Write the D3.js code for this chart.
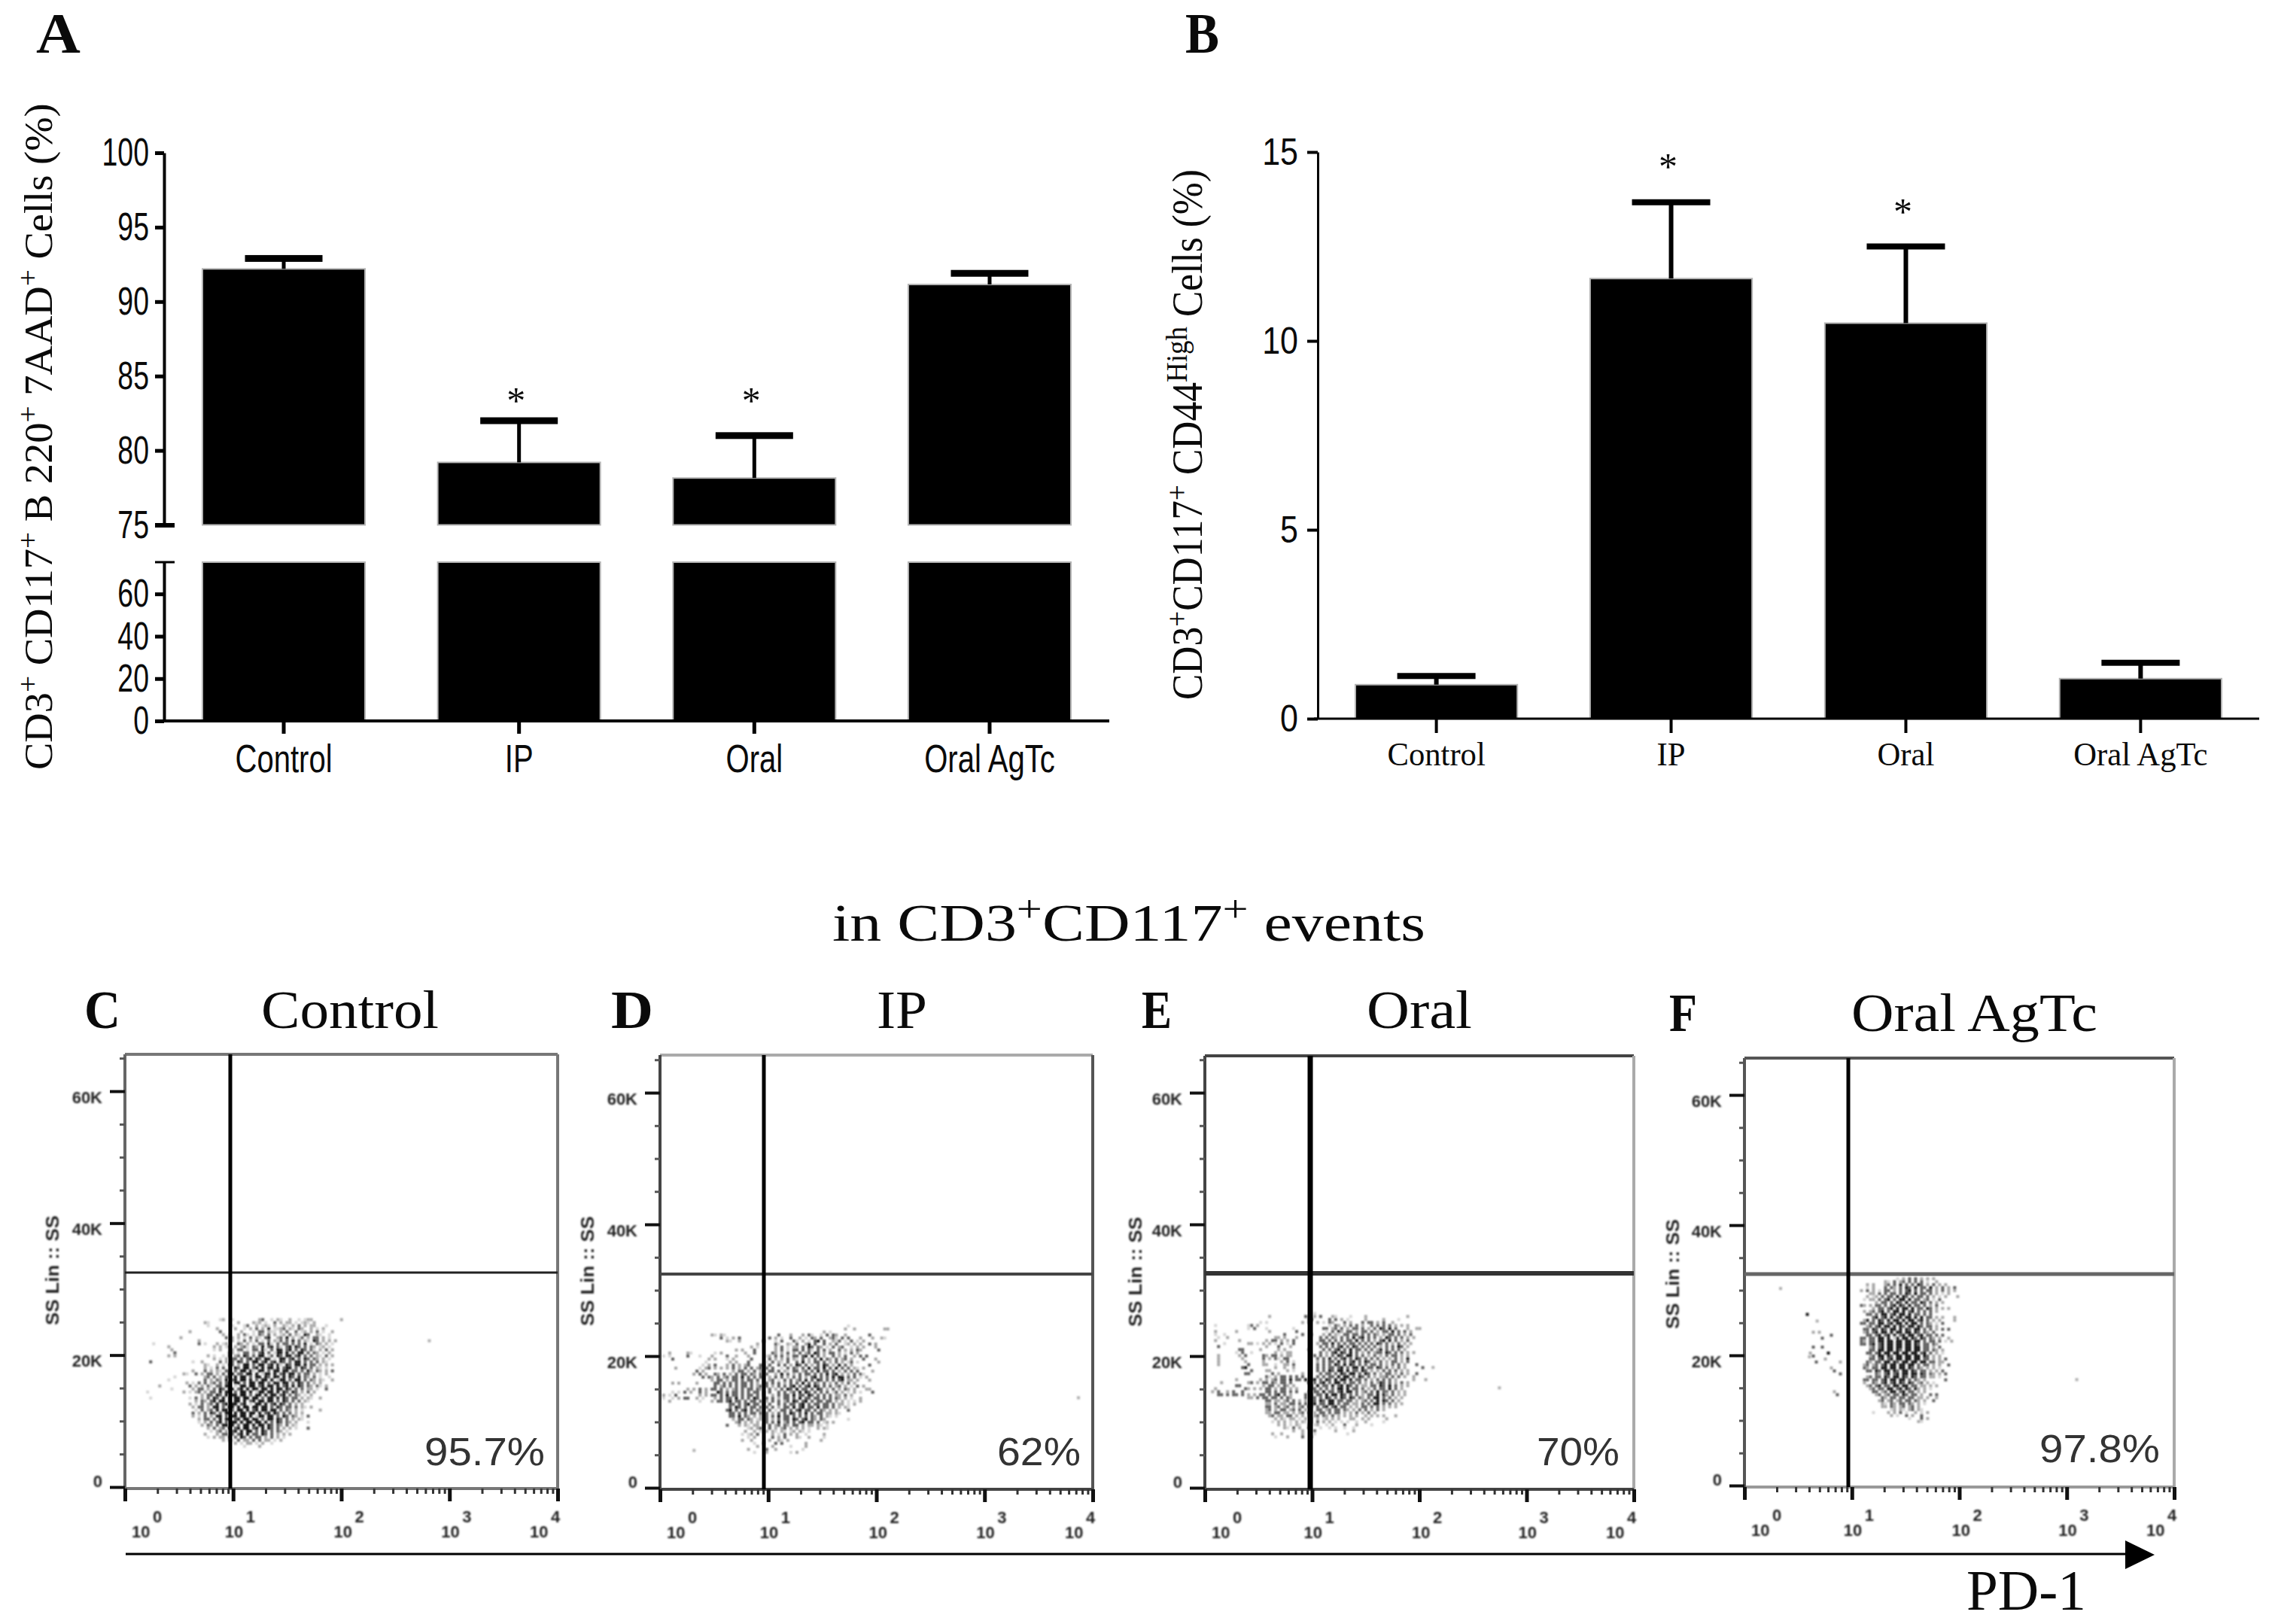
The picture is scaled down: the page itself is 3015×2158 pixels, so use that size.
<!DOCTYPE html>
<html>
<head>
<meta charset="utf-8">
<script src="https://d3js.org/d3.v7.min.js"></script>
<style>
  html, body { margin: 0; background: #fff; }
  svg { display: block; }
  .sans { font-family: "Liberation Sans", sans-serif; }
  .serif { font-family: "Liberation Serif", serif; }
</style>
</head>
<body>
<script>
/* bar charts */
const categories = ['Control', 'IP', 'Oral', 'Oral AgTc']
const cd44Cats = categories
const b220Means = [92.2, 79.2, 78.15, 91.15]
const b220Tops = [92.9, 82, 81, 91.9]
const b220Stars = ['IP', 'Oral']
const b220TicksUpper = [75, 80, 85, 90, 95, 100]
const b220TicksLower = [0, 20, 40, 60]
const cd44Means = [0.9, 11.65, 10.47, 1.06]
const cd44Tops = [1.13, 13.67, 12.5, 1.48]
const cd44Ticks = [0, 5, 10, 15]

/* flow panels: percent labels, axis ticks */
const flowNames = ['Control', 'IP', 'Oral', 'Oral AgTc']
const flowLetters = ['C', 'D', 'E', 'F']
const flowPercents = ['95.7%', '62%', '70%', '97.8%']
const ssMajor = [0, 20, 40, 60]
const ssMinor = [5, 10, 15, 25, 30, 35, 45, 50, 55, 65]
const pdDecades = [1, 10, 100, 1000, 10000]

/* scatter, one char per source pixel: . empty, 1 light .. 4 black */
const gridC = [
"..........................12..1........23..1.21..2..1.122.........2...",
".....................21.........2....212.1..3.2.22.1.121.2............",
"......................1.......1...13..2.121.2..21.2.3.2.22...1........",
".........................2.....2..1.2.3.2.4.1123.21.32..2.1.2.........",
"................2.........3......2...1.33.211.2.3..3.12.2.3.1..2......",
"...........................2.1..2.31.1.32.3.2.12.3.21.43..21..1.......",
".............2..............3.2.2.1.3.21.34..23.4.2.13.2.33.2.1.......",
"...................2.........12.1.3.2.3.1.3.213.3.4.3.21.43.2.2.2.....",
"....1..............3.1...2.12...32.2.1.33.41.3.33.3.3.4.1.32.2.1......",
".........2..............2.2.13.2.231.32.4.34.31.34.43.3.32.12.1.......",
"..........2.............1.2..22.33.1.33.41.3.44.34.3.43.31.2.3.2......",
"...........3.................32.1.33.2.34.3.144.4.3.44.3.32.1.2.......",
".........2.2..........2.1..1.3.23.43.3.44.13.43.44.34.3.3.21.3.2......",
"........................2.1.2.33.3.34.43.44.1.44.34.3.43.32.2.1.......",
"...3.............1..2.....3.2.3.43.3.44.34.34.43.3.44.3.3.3.21........",
".....................21..2.1.33.2.44.3.44.34.41.43.44.4.33.2.2.2......",
".....................2.1.3.3.2.43.44.34.4.44.4.344.3.43.3.21.1........",
".................2...3.2.21.33.3.44.41.44.3.44.44.33.3.42.32.2.3......",
"..............21..3.2.33.2.3.44.33.44.4.144.4.34.44.3.33.2.1.2........",
"...........1.........23.3.2.33.4.44.3.44.43.44.4.43.4.32.3.1..1.......",
".........1...........3.2.32.4.34.44.4.3.44.4.144.3.44.3.32.21..2......",
"...............2.1.3.3.23.3.34.44.3.44.44.3.44.44.3.43.3.2.2..........",
"......2.........3.2.2.31.33.44.1.44.44.34.44.4.34.4.43.32.31.2........",
"..........1......2.33.2.3.43.44.34.4.44.44.4.44.43.3.3.22.1..3........",
"..1...........2.1.23.2.33.4.44.3.44.4.144.44.4.43.43.2.3.2............",
"....................2.33.43.4.44.44.3.44.4.44.34.3.32.1.2.............",
"...1............1.3.2.3.43.4.3.44.44.44.3.44.4.43.33.2.21..2..........",
"..................2.32.34.44.3.44.4.34.44.44.3.43.3.3.21..............",
"................2.1.3.23.4.34.44.34.1.44.4.34.43.3.2.2................",
".................2.33.2.44.3.44.4.44.44.44.3.43.33.3.21.2.............",
"..................1.3.23.4.44.3.44.4.34.44.44.3.32.2.1.....2..........",
".................3.2.3.43.3.44.4.44.44.4.34.43.3.3.2.2................",
".................2.1.3.2.44.3.44.44.4.144.44.3.43.32.1.3..............",
"...................2.33.3.4.44.34.44.44.3.44.43.3.2.21................",
"...................1.2.3.34.3.44.4.44.44.4.3.43.32.2...1..............",
"....................2.32.3.44.4.3.44.4.44.43.32.3.21..................",
"......................2.3.23.4.34.44.34.4.43.3.2.2.1...3..............",
".......................1.23.2.34.4.44.3.43.3.32.1.....................",
".....................2...2.33.3.34.4.33.43.3.2.2.2....................",
"......................1.2.22.3.3.43.3.33.2.3.2.1......................",
"...........................2.21.3.22.3.3.22.1.2.......................",
"...............................2.1.22.1.2..1..........................",
"..................................1....2...............................",
]
const outliersC = [[630, 22.4]]

const gridD = [
".............................................................1..............",
"............................................................2..2.........22.",
".....................................................2.1....................",
"................21.21.................3...2...2.31..1.3.32..2.......3........",
"...................3.1.2.3.........3.2.1..3..2.1.32.3..231.3.3...2...2..21..",
".....................21..2.......3...1.3...31.2.1.34.3..213.1.3.1.2..........",
"...............................2.....31..21.3..24.3..3.2.3..12.2.2..3.2......",
".............................2.1.....2.3.1.22.3.43.32.1.3.23..1.2.2...2......",
"........................2.2...3......2.3.1.33.3.31.3.3.2..3.2.2.32.....3.....",
"..2.....21.......1.2.......2..3.....32.2.3.2.3.23.43.2.33.2.1.3.2...........",
"1.1.....3...1...2....3..2...2.....12.3.3.2.33.34.4.3.2..3.2.3..2.3.3.........",
"...3...........2.2...1.2.....3.....3.2.2.3.21.3.2.3.4.32.3.23.2...3...2......",
"..............1.......2.2...3.....1.3.21.3..3.4.2.33.3.2.3.2.13.1......2.....",
".............1.2.3...2.3.2.23...33.3..3.3.2.43.3.2.3.43.2.4.3.2.....3........",
"....2.......1.23.2.2.2.3.2.3.3.23.3.3..1.3.32.3.4.33.4.3.4.3.3.21.2..........",
"...........3.2.........2.33.2.3.23.33.3.21.33.23.3.4.33.3.2.3.3.3....2.......",
"..........2.3.2..32.3.2.3.33.32.3.3..2.4.3.2.3.33.3.3.4.34.2.2.3.31..........",
".............3.32.3.23.33.4.3.3.33.2.3.3.2.3.3.2.34.3.3.4.44.3.3.1.2.........",
"................2.33.2.33.3.33.3.3.23.1.3.3.23.4.3.43.3.3.34.22.2...2........",
"...2.2.....2.....33.3.3.3.33.3.2.33.3.3.2.3.3.4.3.32.3.2.3.2.3.2.............",
".................3.23.3.3.33.3.23.3.2.3.3.34.3.34.43.3.3.23.2.1.3.2..........",
"........2.2.3.2.33.3.2.23.3.33.32..3.2.3.43.4.33.3.43.2.3.2.32.2...22........",
"...1.1.3.2..3.2...43.3.33.3.3.33.3.3..3.3.23.4.43.3.3.3.13.2.1.2.1...3.......",
"2.1.3.......2.2.33.3.4.33.3.33.3.3..2.3.33.4.33.43.3.3.3.22.3.2..............",
"1..1.2.33..2.1...2.3.33.4.3.3.43.23.3.2.33.3.4.33.33.3.3.32.2.1..2...........",
"..2.........1...2.33.34.33.3.33.3.2.3.3.23.43.34.3.33.33.2.2.1.1.2...........",
"......................33.3.34.33.3.3..3.3.33.34.3.33.33.3.22.1.2..............",
"......................3.43.3.33.3.3.3.2.33.4.34.33.4.33.3.2.21...............",
".....................34.3.34.3.32..3.1.33.3.34.33.3.32.2.2...3...............",
"......................33.3.3.33.3.3.2.3.3.43.3.4.3.33.22.21...................",
"......................33.4.32.2.2.3.3.4.33.3.3.3.32.3.21.1....................",
".......................2.33.32.12.3.2.3.33.43.34.32.32.......1................",
"........................23.2.2.2..3.3.4.23.3.34.33.3.12.2.....................",
".....................3...2.21.22.2.3.23.32.33.2.22.21.1.......................",
"............................12.23..3.2.23.2.2.2.1..2.21.......................",
"...........................2..2.1.2.21.21.12.21.1.............................",
"..........................1.12.3....2.1.3.2.2..1.....2........................",
"............................1.2.....3.2.3...21..2....1........................",
"..........................2..2.....2..21.2..........2.........................",
"..............................1..2...3.3.......2..............................",
"...............................2....2.....1....2..............................",
"............................2.....3..2........1...............................",
"..............................1...2.......1.2.................................",
]
const outliersD = [[2.0, 5.9], [7150, 13.9]]

const gridE = [
"...................................1.........................................",
"....................2...........32.2.3...21....1....2.............2...........",
".................................23.....3.3.2.1.....2.....2....1.............",
".................1.1...........2.2..2.1.32...3.2...3.33.2.3..2.........",
"..1..........13.2.......................1.32.2.3.3.2..3.3.3.3.2.2.2......",
".............1.3...1........1.........33.23.3.2.33.3.2.3.43.4.3...2..22.......",
"..2......2..........2........3.........1.3.42.33.2.33.3.2.33.4.3.3.2.........",
"..1..1...................3.....3..2...2.3.21.33.33.3.3.32.2.33.3.2.3.........",
"...1..2...............22.2...2.......3.3.32.3.3.4.34.3.3.2.43.3.3.2.2.........",
"..2.......2........2.33.2.2.3........33.3.3.3.33.4.3.3.2.34.4.3.2.3...........",
".....1.......22.1.2.2.1.3.1.3.......2.33.4.3.3.33.3.3.3.43.3.2.3.2.2.........",
"...3...............2...3...2.........3.3.3.34.3.43.3.3.3.2.3.3.43.2..........",
"..........33.....2.....2.2.......2....3.3.34.3.4.33.3.3.24.3.3.3.2...........",
".........1.3..1.......2.1.22.........3.2.34.43.4.3.2.3.233.43.3.3.2.2..........",
"...2......2.3.....32.33.2.22.......3.3.2.3.43.44.3.3.2.3.2.3.33.2.2..........",
"...2.......2......3.2.31.33.........3.3.4.3.34.3.43.3.3.3.2.2.3.2.4.........",
"...2........2.....2.....2.3.1.......2.3.33.4.3.34.3.43.2.3.2.33.2.3..........",
"...2.........3....22..1..22.3.......3.3.3.43.4.43.3.3.33.3.2.3.3.2...3.......",
"...........34.........2..2..2.......3.3.33.34.3.44.4.33.43.3.2.3.2.....3.....",
"..............3....22.....2.1.......3.3.43.44.4.33.43.2.2.3.3.3.2.2...........",
"............33.......3.2.......2.....3.33.3.43.44.3.43.3.2.33.2.3.2..3........",
"...................31.2.33.3.3.3....3.3.33.4.44.3.43.3.2.223.3.3.2..2.........",
".........2.......2.2.23.33.4.33.4.34.3.43.4.44.4.33.3.2.3.3.3.2.....2...2.....",
"....2........23.2.33.32.33.3.....3.3.34.3.44.3.33.3.2.3.243.3.2.3.2...........",
".........33.......2.33.2.32.2.....3.4.33.4.34.43.3.22.33.43.4.3.2.2...........",
"..2.........32.2.2.33.2.33.2.2....33.3.3.3.44.4.33.3.2.3.33.4.3.2.............",
".2.3..2.3..3.......33.3.33.3.3...2.33.4.33.34.44.3.23.3.4.33.3.2.2...........",
"...33.3.33.3.2.2.33.3.34.3.2....3.3.33.4.44.43.3.3.2.33.4.43.3.2.2...........",
".............22.3.33.33.3.32....3.33.3.43.3.43.43.32.3.44.3.3.2.2.............",
"...................33.22.23.3.2.2.33.43.44.33.33.2.23.3.4.43.3.2.............",
"...................22.3.22.33.3.3.34.33.44.3.33.22.3.3.44.3.3.2.2.............",
"...................33.23.23.2.23.33.3.34.34.33.2.2.33.3.3.2.2.2..............",
"...................23.2.33.23.3.2.2.33.23.33.32.2.3.3.2.3.2..................",
"...................22.33.22.2.23.3.2.33.3.33.2.2.3.2.3.2.....................",
"....................23.22.33.2.2.2.23.32.3.2.2.2.2..2.2.2.2...2...............",
"......................2.21.22.1.2.2.2.12.2.2...22..2.2.....2..................",
".....................1.2.2.1.2.21.2.3.2.2.1.1.1..1..2.....1...................",
".......................2.2.1.21..2.12..1.2...3...2....1.......................",
".........................21.3.2..3...1..1.1..1..1.............................",
"............................2..2...3......2.....2.............................",
".....................2..2......2...1..........1.................................",
"......................1...2....3..2.............................................",
]
const outliersE = [[48, 14.5], [130, 18.5], [540, 15.4]]

const gridF = [
"................................1.2.3.3.2.2.2............",
"............................21.3.23.3.3.3.1..2...........",
"......................2.2...23.3.4.3.3.43.2.3.2.2........",
"......................1.2...3.32.3.43.4.33.4.2.3.2.3.....",
"....................2.3.2.1.33.2.3.34.3.3.33.2.3.2.2.....",
".......................22.3.3.33.3.43.4.33.3.2.1.2.......",
"......................2.12.3.33.4.43.3.33.3.2.1.2...2....",
".....................1.22.3.34.3.44.4.33.23.1.3..........",
".........................2.33.3.43.4.33.43.3.2.2.........",
"....................32.2.33.3.34.43.4.33.3.2.3...........",
"........................2.33.34.4.44.4.33.43.2.2.2.......",
".....................2.23.34.3.44.4.34.3.3.3.2...........",
"..4...................33.3.44.34.44.4.33.3.3.............",
"........................34.34.4.34.44.4.4.33.2.2...2.....",
".....................24.3.43.4.44.4.44.34.3.2.2....2.....",
"....................33.33.44.34.44.4.44.3.32.1.3.........",
"......................23.34.44.4.43.44.43.33.2...........",
".....................33.43.43.44.4.43.44.3.3.2.3.3.......",
"....2.2..............23.34.44.4.44.44.43.32.3............",
"..........3...........33.34.34.4.34.44.34.33.3.3.........",
".......3............33.33.44.4.14.44.43.43.32.2..2.......",
"....................32.33.44.44.44.44.44.3.33.3.1.2......",
"....................33.34.34.44.44.44.43.33.32...........",
"....3..3...............23.34.44.44.44.44.33.2.3..........",
".......................33.44.44.43.44.44.33.32.2.........",
"...2.....4............33.34.44.44.44.44.34.3.2.1.........",
"....3..................23.44.43.44.44.44.43.2.2..........",
"........2..............33.34.34.44.44.44.33.2.2.3........",
".....3.......2........32.33.44.43.44.44.44.33.22.........",
".....................23.23.34.44.44.44.3.33.2.2..3.......",
"..........2..........32.33.44.44.44.43.32.2.2.1..........",
"...........3..........33.43.44.43.44.43.33.2.2.3.........",
".............3...........32.34.34.44.44.43.32.2.3........",
"......................23.33.43.44.43.43.33.22.1..........",
".....................33.33.34.44.44.3.32.2......3........",
".....................2..32.34.34.43.43.23.2.1............",
"......................23.34.33.44.44.33.22.2.2...........",
".......................23.33.44.34.43.42.2.1.............",
"...........2............33.23.44.34.33.2.2...............",
"............3............23.23.33.43.33.2..3.3...........",
"...........................32.33.33.33.22.2..2...........",
"..........................23.23.23.33.32.2..3............",
"...........................21.32.33.32.2.1...............",
"...........................22.32.23.23.2.................",
"..............................12.21.23.21................",
"........................1....2.2.3.1..2.1.2..............",
"..............................2.1..3.2..3................",
"....................................1...3.2..............",
".......................................21................",
]
const outliersF = [[2.1, 30.5], [4.6, 25.5], [3.9, 20.0], [1200, 16.5]]

const grids = [gridC, gridD, gridE, gridF]
const outliers = [outliersC, outliersD, outliersE, outliersF]
const gridLogStart = [0.14, 0.02, 0.03, 0.515]
const gridKStart = [25.6, 24.8, 26.7, 32.0]

const W = 3015, H = 2158
const svg = d3.select('body').append('svg').attr('width', W).attr('height', H).attr('viewBox', `0 0 ${W} ${H}`)
svg.append('rect').attr('width', W).attr('height', H).attr('fill', '#fff')
svg.append('defs').append('filter').attr('id', 'soft')
    .append('feGaussianBlur').attr('stdDeviation', 0.8)

/* squeeze text to a measured width, anchored at its start */
const fitText = (t, x, y, w, rot = 0) => {
    const len = t.node().getBBox().width
    t.attr('transform', `translate(${x},${y}) rotate(${rot}) scale(${w / len},1)`)
    return t
}

/* parts: [string, isSuper] */
const richText = (font, size, parts, weight = 'normal') => {
    const t = svg.append('text').attr('class', font).attr('font-size', size).attr('font-weight', weight).attr('fill', '#0a0a0a')
    let up = false
    parts.forEach(([s, sup]) => {
        const span = t.append('tspan').text(s).attr('xml:space', 'preserve').style('white-space', 'pre')
        if (sup) span.attr('font-size', size * 0.72).attr('dy', up ? 0 : -size * 0.36)
        else span.attr('dy', up ? size * 0.36 : 0)
        up = !!sup
    })
    return t
}

const panelLetter = (s, x, y, w) => fitText(richText('serif', 76, [[s]], 'bold'), x, y, w)

panelLetter('A', 48, 70, 59)
panelLetter('B', 1575, 70, 45)

/* panel A with the broken y axis */
const aX = d3.scaleBand().domain(categories).range([269, 1423]).paddingInner(0.309).paddingOuter(0)
const aUp = d3.scaleLinear().domain([75, 100]).range([697.5, 203])
const aLow = d3.scaleLinear().domain([0, 75]).range([958, 747])

const gA = svg.append('g')
gA.selectAll('rect.up').data(categories).join('rect').attr('class', 'up')
    .attr('x', d => aX(d)).attr('width', aX.bandwidth())
    .attr('y', (d, i) => aUp(b220Means[i])).attr('height', (d, i) => aUp(75) - aUp(b220Means[i]))
    .attr('fill', '#000').attr('stroke', '#b4b4b4').attr('stroke-width', 2)
gA.selectAll('rect.low').data(categories).join('rect').attr('class', 'low')
    .attr('x', d => aX(d)).attr('width', aX.bandwidth())
    .attr('y', aLow(75)).attr('height', aLow(0) - aLow(75))
    .attr('fill', '#000').attr('stroke', '#b4b4b4').attr('stroke-width', 2)

const errorBars = (g, x, y, tops, means, capW, capH, stem) => {
    g.selectAll('line.stem').data(categories).join('line').attr('class', 'stem')
        .attr('x1', d => x(d) + x.bandwidth() / 2).attr('x2', d => x(d) + x.bandwidth() / 2)
        .attr('y1', (d, i) => y(means[i])).attr('y2', (d, i) => y(tops[i]))
        .attr('stroke', '#000').attr('stroke-width', stem)
    g.selectAll('rect.cap').data(categories).join('rect').attr('class', 'cap')
        .attr('x', d => x(d) + x.bandwidth() / 2 - capW / 2).attr('width', capW)
        .attr('y', (d, i) => y(tops[i]) - capH / 2).attr('height', capH).attr('fill', '#000')
}
errorBars(gA, aX, aUp, b220Tops, b220Means, 103, 9, 5)

const styleAxis = (g, w, font, size, sx, textX) => {
    g.selectAll('path.domain').attr('stroke', '#000').attr('stroke-width', w)
    g.selectAll('.tick line').attr('stroke', '#000').attr('stroke-width', w + 1)
    const txt = g.selectAll('.tick text').attr('class', font).attr('font-size', size).attr('fill', '#0a0a0a')
        .attr('font-family', null)
    txt.attr('transform', `scale(${sx},1)`)
    if (textX !== undefined) txt.attr('x', textX / sx)
}

svg.append('g').attr('transform', 'translate(218,0)')
    .call(d3.axisLeft(aUp).tickValues(b220TicksUpper).tickSize(12).tickSizeOuter(0))
    .call(g => styleAxis(g, 4, 'sans', 52, 0.72, -20))
    .call(g => g.selectAll('.tick').filter(d => d === 75).select('line').attr('x2', 14).attr('x1', -12).attr('stroke-width', 6))
svg.append('g').attr('transform', 'translate(218,0)')
    .call(d3.axisLeft(aLow).tickValues(b220TicksLower).tickSize(12).tickSizeOuter(0))
    .call(g => styleAxis(g, 4, 'sans', 52, 0.72, -20))
svg.append('line').attr('x1', 206).attr('x2', 232).attr('y1', aLow(75)).attr('y2', aLow(75)).attr('stroke', '#000').attr('stroke-width', 3)

svg.append('g').attr('transform', `translate(0,${aLow(0)})`)
    .call(d3.axisBottom(aX).tickSize(17).tickSizeOuter(0))
    .call(g => styleAxis(g, 4, 'sans', 52, 0.77))
    .call(g => g.select('path.domain').attr('d', 'M206,0H1474'))
    .call(g => g.selectAll('.tick text').attr('y', 31))

const stars = (list, x, ys) => {
    svg.selectAll(null).data(list).join('text').attr('class', 'serif').attr('font-size', 50).attr('fill', '#0a0a0a')
        .attr('text-anchor', 'middle').text('*')
        .attr('x', d => x(d) + x.bandwidth() / 2 - 4)
        .attr('y', (d, i) => ys[i] + 21)
}
stars(b220Stars, aX, [528, 528])

fitText(richText('serif', 52, [['CD3'], ['+', 1], [' CD117'], ['+', 1], [' B 220'], ['+', 1], [' 7AAD'], ['+', 1], [' Cells (%)']]), 69, 1023, 886, -90)

/* panel B */
const bX = d3.scaleBand().domain(cd44Cats).range([1801, 2952]).paddingInner(0.31).paddingOuter(0)
const bY = d3.scaleLinear().domain([0, 15]).range([955, 202])
const gB = svg.append('g')
gB.selectAll('rect').data(cd44Cats).join('rect')
    .attr('x', d => bX(d)).attr('width', bX.bandwidth())
    .attr('y', (d, i) => bY(cd44Means[i])).attr('height', (d, i) => bY(0) - bY(cd44Means[i]))
    .attr('fill', '#000').attr('stroke', '#b4b4b4').attr('stroke-width', 2)
errorBars(gB, bX, bY, cd44Tops, cd44Means, 104, 8, 6)

svg.append('g').attr('transform', 'translate(1751,0)')
    .call(d3.axisLeft(bY).tickValues(cd44Ticks).tickSize(14).tickSizeOuter(0))
    .call(g => styleAxis(g, 3, 'sans', 50, 0.86, -26))
svg.append('g').attr('transform', `translate(0,${bY(0)})`)
    .call(d3.axisBottom(bX).tickSize(19).tickSizeOuter(0))
    .call(g => styleAxis(g, 3, 'serif', 44, 0.97))
    .call(g => g.select('path.domain').attr('d', 'M1746,0H3002'))
    .call(g => g.selectAll('.tick text').attr('y', 31))

stars(['IP', 'Oral'], bX, [217, 277])

fitText(richText('serif', 56, [['CD3'], ['+', 1], ['CD117'], ['+', 1], [' CD44'], ['High', 1], [' Cells (%)']]), 1597, 930, 705, -90)

/* section title */
fitText(richText('serif', 70, [['in CD3'], ['+', 1], ['CD117'], ['+', 1], [' events']]), 1106, 1250, 788)

/* flow panels */
const frames = [
    { left: 166, right: 741, top: 1401, y0: 1976, y60: 1450, gx: 306, gk: 1691, gw: 3, gc: '#222', fc: ['#777', '#777', '#777', '#666'] },
    { left: 877, right: 1452, top: 1402, y0: 1977, y60: 1452, gx: 1015, gk: 1693, gw: 4, gc: '#444', fc: ['#aaa', '#555', '#444', '#444'] },
    { left: 1601, right: 2171, top: 1403, y0: 1977, y60: 1452, gx: 1741, gk: 1692, gw: 6, gc: '#333', fc: ['#444', '#aaa', '#444', '#444'] },
    { left: 2318, right: 2889, top: 1406, y0: 1974, y60: 1455, gx: 2456, gk: 1693, gw: 5, gc: '#666', fc: ['#555', '#aaa', '#999', '#555'] }
]
const titleBoxes = [[347, 1366, 236], [1165, 1366, 67], [1816, 1366, 140], [2460, 1370, 327]]
const letterBoxes = [[112, 1366, 48], [812, 1366, 56], [1517, 1366, 40], [2218, 1370, 37]]
const percentBoxes = [[564, 1947, 160], [1325, 1947, 111], [2042, 1947, 110], [2710, 1943, 160]]
const ssLabelX = [78, 789, 1517, 2231]
const cellDec = 0.028, cellK = 0.457
const greys = d3.scaleOrdinal().domain(['1', '2', '3', '4']).range(['#d6d6d6', '#a6a6a6', '#5c5c5c', '#111'])
const minorLog = d3.range(0, 4).flatMap(e => d3.range(2, 10).map(m => m * 10 ** e))

flowNames.forEach((name, p) => {
    const f = frames[p]
    const x = d3.scaleLog().domain([1, 1e4]).range([f.left, f.right])
    const y = d3.scaleLinear().domain([0, 60]).range([f.y0, f.y60])
    const g = svg.append('g')

    /* cells */
    const cells = []
    grids[p].forEach((row, r) => row.split('').forEach((c, k) => {
        if (c !== '.') cells.push({ dec: gridLogStart[p] + k * cellDec, ss: gridKStart[p] - r * cellK, c })
    }))
    const dots = g.append('g').attr('filter', 'url(#soft)')
    dots.selectAll('rect.cell').data(cells).join('rect').attr('class', 'cell')
        .attr('x', d => x(10 ** d.dec)).attr('y', d => y(d.ss))
        .attr('width', d => x(10 ** (d.dec + cellDec)) - x(10 ** d.dec))
        .attr('height', d => y(d.ss - cellK) - y(d.ss))
        .attr('fill', d => greys(d.c))
    dots.selectAll('rect.out').data(outliers[p]).join('rect').attr('class', 'out')
        .attr('x', d => x(d[0])).attr('y', d => y(d[1])).attr('width', 4).attr('height', 4).attr('fill', '#b0b0b0')

    /* frame: top, right, bottom, left */
    const fy = y0 => y0 + 2
    const edges = [[f.left, f.top, f.right, f.top], [f.right, f.top, f.right, fy(f.y0)], [f.left, fy(f.y0), f.right, fy(f.y0)], [f.left, f.top, f.left, fy(f.y0)]]
    g.selectAll('line.edge').data(edges).join('line').attr('class', 'edge')
        .attr('x1', d => d[0]).attr('y1', d => d[1]).attr('x2', d => d[2]).attr('y2', d => d[3])
        .attr('stroke', (d, i) => f.fc[i]).attr('stroke-width', 4)

    /* quadrant gates */
    g.append('line').attr('x1', f.left).attr('x2', f.right).attr('y1', f.gk).attr('y2', f.gk).attr('stroke', f.gc).attr('stroke-width', f.gw)
    g.append('line').attr('x1', f.gx).attr('x2', f.gx).attr('y1', f.top).attr('y2', fy(f.y0)).attr('stroke', '#000').attr('stroke-width', p === 2 ? 7 : 5)

    /* y ticks */
    g.append('g').attr('transform', `translate(${f.left},0)`)
        .call(d3.axisLeft(y).tickValues(ssMajor).tickSize(20).tickSizeOuter(0).tickFormat(d => d ? d + 'K' : '0'))
        .call(a => {
            a.select('path.domain').remove()
            a.selectAll('.tick line').attr('stroke', '#111').attr('stroke-width', 4)
            a.selectAll('.tick text').attr('class', 'sans').attr('font-family', null).attr('font-size', 22).attr('font-weight', 'bold')
                .attr('fill', '#222').attr('x', -30).attr('dy', d => d ? 15 : -1).attr('filter', 'url(#soft)')
        })
    g.append('g').attr('transform', `translate(${f.left},0)`)
        .call(d3.axisLeft(y).tickValues(ssMinor).tickSize(7).tickSizeOuter(0).tickFormat(''))
        .call(a => {
            a.select('path.domain').remove()
            a.selectAll('.tick line').attr('stroke', '#555').attr('stroke-width', 3)
        })

    /* x ticks */
    g.append('g').attr('transform', `translate(0,${f.y0 + 2})`)
        .call(d3.axisBottom(x).tickValues(pdDecades).tickSize(17).tickSizeOuter(0).tickFormat(''))
        .call(a => {
            a.select('path.domain').remove()
            a.selectAll('.tick line').attr('stroke', '#111').attr('stroke-width', 5)
        })
    g.append('g').attr('transform', `translate(0,${f.y0 + 2})`)
        .call(d3.axisBottom(x).tickValues(minorLog).tickSize(7).tickSizeOuter(0).tickFormat(''))
        .call(a => {
            a.select('path.domain').remove()
            a.selectAll('.tick line').attr('stroke', '#333').attr('stroke-width', 3)
        })

    /* 10^n labels sit off their ticks in the original export */
    const expOffset = [9, -11, -10, -11, -37]
    const lbl = g.selectAll('g.exp').data(pdDecades).join('g').attr('class', 'exp')
        .attr('transform', (d, i) => `translate(${x(d) + expOffset[i]},${f.y0 + 67})`)
        .attr('filter', 'url(#soft)')
    lbl.append('text').attr('class', 'sans').attr('font-weight', 'bold').attr('font-size', 22).attr('fill', '#222').text('10')
    lbl.append('text').attr('class', 'sans').attr('font-weight', 'bold').attr('font-size', 22).attr('fill', '#222')
        .attr('x', 28).attr('y', -20).text((d, i) => i)

    /* SS label */
    fitText(richText('sans', 23, [['SS Lin :: SS']], 'bold').attr('fill', '#222').attr('filter', 'url(#soft)'), ssLabelX[p], f.top + 360, 146, -90)

    /* titles and percents */
    fitText(richText('serif', 72, [[name]]), titleBoxes[p][0], titleBoxes[p][1], titleBoxes[p][2])
    fitText(richText('serif', 72, [[flowLetters[p]]], 'bold'), letterBoxes[p][0], letterBoxes[p][1], letterBoxes[p][2])
    fitText(richText('sans', 52, [[flowPercents[p]]]).attr('font-family', 'Open Sans').attr('font-weight', 300).attr('fill', '#333'), percentBoxes[p][0], percentBoxes[p][1], percentBoxes[p][2])
})

/* PD-1 arrow */
svg.append('line').attr('x1', 167).attr('x2', 2830).attr('y1', 2065).attr('y2', 2065).attr('stroke', '#000').attr('stroke-width', 3)
svg.append('path').attr('d', d3.line()([[2824, 2047], [2863, 2066], [2824, 2085]])).attr('fill', '#000')
fitText(richText('serif', 76, [['PD-1']]), 2613, 2139, 159)
</script>
</body>
</html>
